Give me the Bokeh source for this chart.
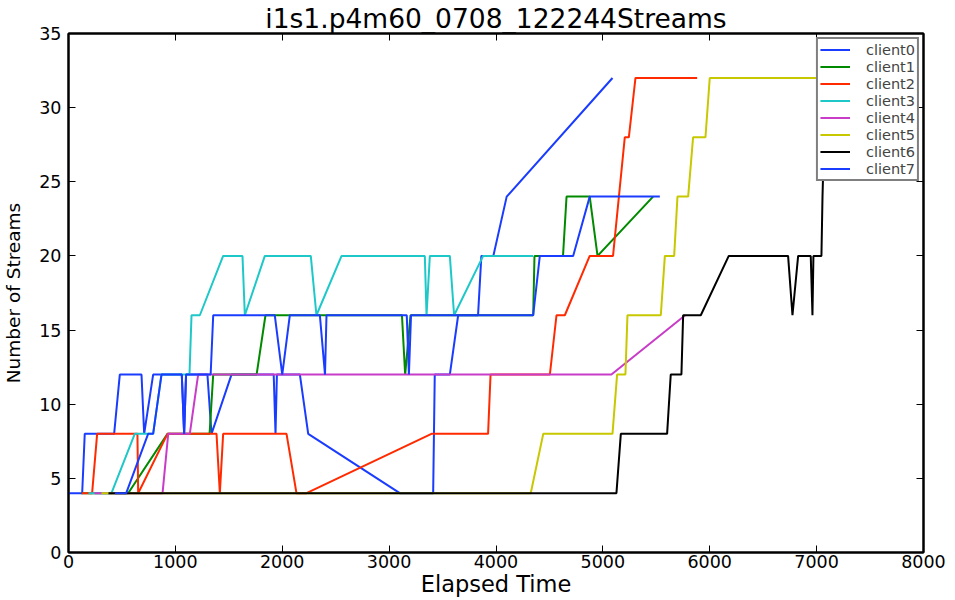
from bokeh.plotting import figure
from bokeh.models import Range1d, LinearAxis, FixedTicker, Legend, LegendItem, Title
from bokeh.embed import file_html
from bokeh.resources import INLINE

# Axis ticks
TIME_TICKS = [0, 1000, 2000, 3000, 4000, 5000, 6000, 7000, 8000]
STREAM_TICKS = [0, 5, 10, 15, 20, 25, 30, 35]

TITLE = "i1s1.p4m60_0708_122244Streams"

# Stream counts per client over elapsed time
client0_t = [0, 128, 152, 427, 480, 683, 708, 792, 1060, 1082, 1100, 1300, 1338, 1525,
             1920, 1937, 1950, 2165, 2243, 3100, 3412, 3427, 3568, 3646, 3832, 3863,
             3975, 4100, 5090]
client0_n = [4, 4, 8, 8, 12, 12, 8, 12, 12, 8, 12, 12, 8, 12,
             12, 8, 12, 12, 8, 4, 4, 12, 12, 16, 16, 20,
             20, 24, 32]

client1_t = [122, 558, 926, 1320, 1354, 1760, 1843, 3120, 3150, 3200, 4348, 4360,
             4627, 4660, 4877, 4950, 5470]
client1_n = [4, 4, 8, 8, 12, 12, 16, 16, 12, 16, 16, 20,
             20, 24, 24, 20, 24]

client2_t = [124, 221, 268, 645, 652, 926, 1385, 1416, 1447, 2040, 2133, 2227, 3396,
             3926, 3949, 4504, 4566, 4644, 4877, 5095, 5205, 5243, 5305, 5882]
client2_n = [4, 4, 8, 8, 4, 8, 8, 4, 8, 8, 4, 4, 8,
             8, 12, 12, 16, 16, 20, 20, 28, 28, 32, 32]

client3_t = [187, 402, 620, 792, 870, 1132, 1151, 1229, 1447, 1628, 1650, 1837, 2267,
             2320, 2555, 3334, 3350, 3381, 3568, 3608, 3880, 4348]
client3_n = [4, 4, 8, 8, 12, 12, 16, 16, 20, 20, 16, 20, 20,
             16, 20, 20, 16, 20, 20, 16, 20, 20]

client4_t = [243, 880, 933, 1135, 1213, 5080, 5770]
client4_n = [4, 4, 8, 8, 12, 12, 16]

client5_t = [309, 4325, 4442, 5090, 5133, 5211, 5230, 5542, 5580, 5667, 5698, 5798,
             5844, 5960, 6000, 7100]
client5_n = [4, 4, 8, 8, 12, 12, 16, 16, 20, 20, 24, 24,
             28, 28, 32, 32]

client6_t = [374, 5127, 5168, 5601, 5635, 5735, 5751, 5916, 6178, 6733, 6774, 6827,
             6945, 6961, 6970, 7045, 7055, 7070, 7080]
client6_n = [4, 4, 8, 8, 12, 12, 16, 16, 20, 20, 16, 20,
             20, 16, 20, 20, 24, 28, 32]

client7_t = [435, 540, 745, 792, 870, 1060, 1082, 1100, 1330, 1354, 1930, 2000, 2071,
             2352, 2400, 2414, 3165, 3185, 3205, 4348, 4410, 4722, 4877, 5533]
client7_n = [4, 4, 8, 8, 12, 12, 8, 12, 12, 16, 16, 12, 16,
             16, 12, 16, 16, 12, 16, 16, 20, 20, 24, 24]

SERIES = [
    ("client0", client0_t, client0_n, "#1a3cff"),
    ("client1", client1_t, client1_n, "#008a00"),
    ("client2", client2_t, client2_n, "#ff2a00"),
    ("client3", client3_t, client3_n, "#1ec8c8"),
    ("client4", client4_t, client4_n, "#c83cc8"),
    ("client5", client5_t, client5_n, "#c8c800"),
    ("client6", client6_t, client6_n, "#000000"),
    ("client7", client7_t, client7_n, "#1a3cff"),
]

FONT = "DejaVu Sans"

p = figure(
    frame_width=855, frame_height=519,
    x_range=Range1d(0, 8000), y_range=Range1d(0, 35),
    output_backend="svg", toolbar_location=None,
    min_border_left=67, min_border_right=33, min_border_top=33, min_border_bottom=48,
)
p.background_fill_color = "white"
p.border_fill_color = "white"
p.grid.visible = False
p.outline_line_color = "black"
p.outline_line_width = 2


def style_axis(ax, show_labels):
    ax.major_tick_in = 7
    ax.major_tick_out = 0
    ax.minor_tick_in = 0
    ax.minor_tick_out = 0
    ax.major_tick_line_color = "black"
    ax.major_tick_line_width = 1
    ax.axis_line_color = "black"
    ax.axis_line_width = 2
    ax.major_label_text_font = FONT
    ax.major_label_text_color = "black"
    ax.axis_label_text_color = "black"
    if show_labels:
        ax.major_label_text_font_size = "17.5px"
    else:
        ax.major_label_text_font_size = "0px"
        ax.major_label_standoff = 0


xa = p.xaxis[0]
xa.ticker = FixedTicker(ticks=TIME_TICKS)
style_axis(xa, True)
xa.major_label_standoff = 2
xa.axis_label = "Elapsed Time"
xa.axis_label_text_font = FONT
xa.axis_label_text_font_size = "22.5px"
xa.axis_label_text_font_style = "normal"
xa.axis_label_standoff = 0

ya = p.yaxis[0]
ya.ticker = FixedTicker(ticks=STREAM_TICKS)
style_axis(ya, True)
ya.major_label_standoff = 7
ya.axis_label = "Number of Streams"
ya.axis_label_text_font = FONT
ya.axis_label_text_font_size = "18.5px"
ya.axis_label_text_font_style = "normal"
ya.axis_label_standoff = 12

# Tick marks mirrored on the top and right edges of the frame
top_ax = LinearAxis(ticker=FixedTicker(ticks=TIME_TICKS))
style_axis(top_ax, False)
p.add_layout(top_ax, "above")

right_ax = LinearAxis(ticker=FixedTicker(ticks=STREAM_TICKS))
style_axis(right_ax, False)
p.add_layout(right_ax, "right")

# Chart title, centred over the plot frame
title = Title(text=TITLE, align="center", text_font=FONT, text_font_size="26.5px",
              text_font_style="normal", text_color="black", standoff=0, offset=0)
p.add_layout(title, "above")

items = []
for name, t, n, color in SERIES:
    r = p.line(t, n, line_color=color, line_width=2)
    items.append(LegendItem(label=name, renderers=[r]))

legend = Legend(items=items, location="top_right")
legend.margin = 4
legend.padding = 2
legend.spacing = 0
legend.glyph_height = 17
legend.label_height = 17
legend.glyph_width = 30
legend.label_standoff = 16
legend.label_text_font = FONT
legend.label_text_font_size = "14.5px"
legend.border_line_color = "black"
legend.border_line_width = 2
legend.background_fill_color = "white"
legend.background_fill_alpha = 1.0
p.add_layout(legend)

open("out.html", "w").write(file_html(p, INLINE))
